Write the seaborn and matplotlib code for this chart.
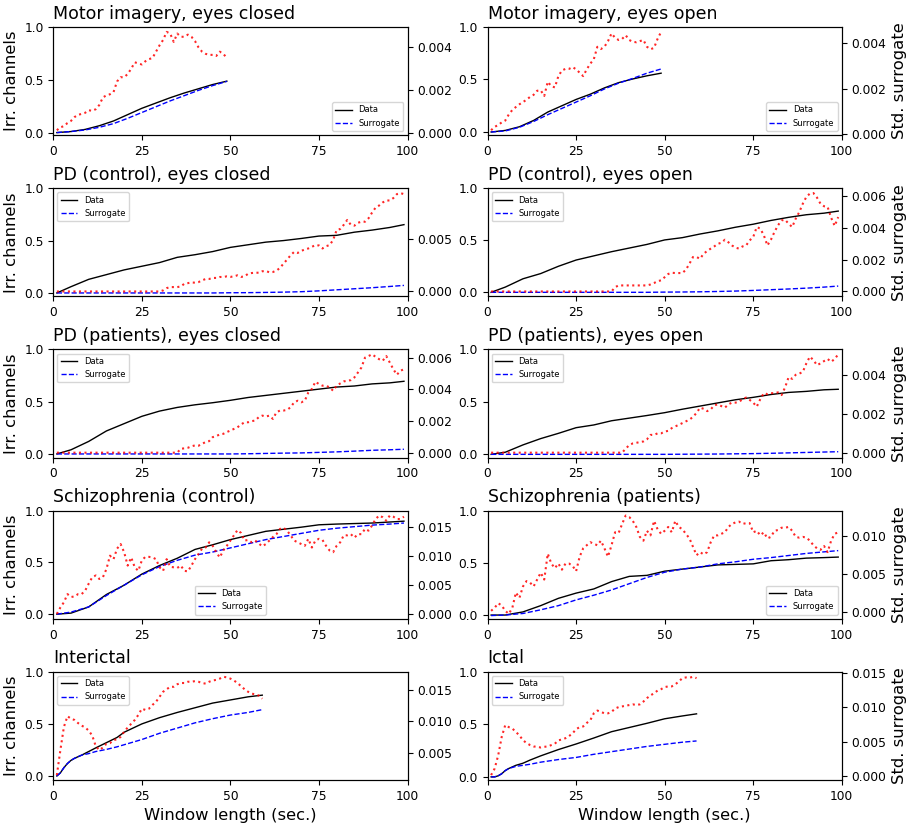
import numpy as np
import matplotlib
matplotlib.use("Agg")
import matplotlib.pyplot as plt
import seaborn as sns

# %%-------------------------------------------------------------------------
# data (std values in units of 1e-3)
titles = ["Motor imagery, eyes closed", "Motor imagery, eyes open",
          "PD (control), eyes closed", "PD (control), eyes open",
          "PD (patients), eyes closed", "PD (patients), eyes open",
          "Schizophrenia (control)", "Schizophrenia (patients)",
          "Interictal", "Ictal"]

x_mi = [1, 5, 9, 13, 17, 21, 25, 29, 33, 37, 41, 45, 49]
x_long = [1, 5, 10, 15, 20, 25, 30, 35, 40, 45, 50, 55, 60, 65, 70, 75, 80, 85, 90, 95, 99]
x_inter = [1, 2, 3, 4, 5, 6, 8, 10, 12, 15, 18, 20, 25, 30, 35, 40, 45, 50, 55, 59]
x_ictal = [1, 2, 3, 4, 5, 6, 8, 10, 12, 15, 20, 25, 30, 35, 40, 45, 50, 55, 59]

# Motor imagery, eyes closed
mi_closed_data = [0.0, 0.01, 0.03, 0.065, 0.11, 0.17, 0.23, 0.28, 0.33, 0.375, 0.415, 0.455, 0.487]
mi_closed_surr = [0.0, 0.01, 0.025, 0.05, 0.085, 0.135, 0.19, 0.245, 0.3, 0.35, 0.4, 0.445, 0.485]
mi_closed_std = [0.11, 0.25, 0.3, 0.45, 0.55, 0.73, 0.83, 0.88, 0.93, 1.05,
                 1.02, 1.1, 1.3, 1.65, 1.75, 1.8, 1.9, 2.4, 2.6, 2.6,
                 2.75, 3.0, 3.3, 3.25, 3.2, 3.35, 3.45, 3.5, 3.8, 4.1,
                 4.35, 4.73, 4.65, 4.26, 4.65, 4.5, 4.5, 4.6, 4.5, 4.3,
                 4.0, 3.8, 3.7, 3.65, 3.65, 3.6, 3.8, 3.7, 3.5]

# Motor imagery, eyes open
mi_open_data = [0.0, 0.015, 0.05, 0.11, 0.19, 0.25, 0.31, 0.36, 0.42, 0.47, 0.505, 0.535, 0.56]
mi_open_surr = [0.0, 0.01, 0.045, 0.1, 0.165, 0.225, 0.285, 0.345, 0.41, 0.465, 0.51, 0.56, 0.6]
mi_open_std = [0.15, 0.3, 0.38, 0.5, 0.58, 0.85, 1.05, 1.18, 1.3, 1.4,
               1.5, 1.63, 1.72, 1.9, 1.92, 1.67, 2.3, 2.1, 2.05, 2.55,
               2.8, 2.87, 2.87, 2.95, 2.85, 2.7, 2.55, 2.85, 3.1, 3.3,
               3.85, 3.75, 3.85, 4.1, 4.44, 4.25, 4.15, 4.2, 4.36, 4.15,
               4.07, 4.05, 4.1, 4.15, 3.85, 3.74, 3.8, 4.2, 4.51]

# PD (control), eyes closed
pdc_closed_data = [0.0, 0.06, 0.13, 0.175, 0.22, 0.255, 0.29, 0.34, 0.365, 0.395, 0.435,
                   0.46, 0.485, 0.5, 0.52, 0.543, 0.55, 0.58, 0.6, 0.625, 0.652]
pdc_closed_surr = [0.0, 0.0, 0.0, 0.0, 0.0, 0.0, 0.0, 0.0, 0.0, 0.0, 0.002,
                   0.003, 0.005, 0.008, 0.012, 0.02, 0.03, 0.04, 0.05, 0.062, 0.072]
pdc_closed_std = [0.0] * 30 + [
    0.1, 0.32, 0.42, 0.42, 0.42, 0.48, 0.74, 0.8, 0.87, 0.84,
    0.9, 1.06, 1.2, 1.2, 1.3, 1.3, 1.39, 1.39, 1.45, 1.4,
    1.45, 1.55, 1.4, 1.45, 1.7, 1.77, 1.8, 1.8, 1.94, 1.97,
    1.84, 1.87, 2.0, 2.26, 2.68, 3.06, 3.48, 3.8, 3.7, 3.9,
    4.03, 4.13, 4.29, 4.45, 4.42, 4.13, 4.35, 4.45, 4.94, 5.9,
    6.0, 6.4, 6.87, 6.4, 6.32, 6.6, 6.7, 6.7, 7.03, 7.58,
    8.06, 8.26, 8.55, 8.74, 8.74, 8.97, 9.35, 9.45, 9.35]

# PD (control), eyes open
pdc_open_data = [0.0, 0.05, 0.13, 0.18, 0.25, 0.31, 0.35, 0.39, 0.425, 0.46, 0.503,
                 0.525, 0.56, 0.59, 0.625, 0.654, 0.69, 0.72, 0.745, 0.76, 0.78]
pdc_open_surr = [0.0, 0.0, 0.0, 0.0, 0.0, 0.0, 0.0, 0.0, 0.0, 0.0, 0.002,
                 0.003, 0.005, 0.008, 0.012, 0.018, 0.025, 0.032, 0.04, 0.05, 0.06]
pdc_open_std = [0.0] * 35 + [
    0.27, 0.38, 0.38, 0.38, 0.38,
    0.38, 0.38, 0.38, 0.38, 0.38, 0.44, 0.53, 0.65, 0.7, 0.9,
    1.1, 1.18, 1.16, 1.16, 1.16, 1.37, 1.75, 2.17, 2.17, 2.06,
    2.38, 2.55, 2.7, 2.84, 3.0, 3.07, 3.26, 3.1, 2.9, 2.76,
    2.7, 2.84, 2.9, 3.22, 3.43, 4.06, 3.96, 3.54, 2.9, 3.26,
    3.75, 4.17, 4.48, 4.52, 4.27, 4.06, 4.59, 5.0, 5.53, 5.96,
    6.17, 6.2, 5.92, 5.53, 5.37, 5.33, 4.65, 4.13, 4.69]

# PD (patients), eyes closed
pdp_closed_data = [0.0, 0.04, 0.12, 0.22, 0.29, 0.36, 0.41, 0.445, 0.47, 0.49, 0.513,
                   0.54, 0.56, 0.58, 0.6, 0.62, 0.64, 0.65, 0.67, 0.68, 0.695]
pdp_closed_surr = [0.0, 0.0, 0.0, 0.0, 0.0, 0.0, 0.0, 0.0, 0.0, 0.0, 0.0,
                   0.002, 0.005, 0.008, 0.01, 0.015, 0.02, 0.027, 0.035, 0.04, 0.045]
pdp_closed_std = [0.0] * 35 + [
    0.25, 0.27, 0.31, 0.4, 0.46,
    0.44, 0.56, 0.67, 0.73, 0.98, 1.05, 1.15, 1.19, 1.3, 1.4,
    1.5, 1.6, 1.78, 1.92, 1.92, 1.99, 2.03, 2.24, 2.34, 2.28,
    2.34, 2.13, 2.55, 2.66, 2.66, 2.7, 2.87, 3.18, 3.28, 3.18,
    3.28, 3.8, 4.02, 4.48, 4.33, 4.23, 4.23, 4.12, 3.91, 4.23,
    4.37, 4.5, 4.54, 4.58, 4.75, 5.06, 5.38, 6.0, 6.1, 6.21,
    6.05, 5.9, 5.8, 6.1, 5.69, 5.27, 4.92, 5.17, 5.27]

# PD (patients), eyes open
pdp_open_data = [0.0, 0.02, 0.09, 0.15, 0.2, 0.254, 0.28, 0.32, 0.345, 0.37, 0.397,
                 0.43, 0.46, 0.49, 0.52, 0.543, 0.57, 0.59, 0.6, 0.615, 0.62]
pdp_open_surr = [0.0, 0.0, 0.0, 0.0, 0.0, 0.0, 0.0, 0.0, 0.0, 0.0, 0.0,
                 0.001, 0.002, 0.003, 0.005, 0.007, 0.01, 0.014, 0.018, 0.022, 0.025]
pdp_open_std = [0.0] * 38 + [
    0.21, 0.39,
    0.48, 0.51, 0.55, 0.58, 0.69, 0.92, 0.92, 1.0, 1.0, 1.09,
    1.13, 1.27, 1.36, 1.44, 1.53, 1.62, 1.71, 1.85, 2.06, 2.33,
    2.27, 2.15, 2.24, 2.45, 2.5, 2.41, 2.33, 2.5, 2.59, 2.59,
    2.63, 2.77, 2.85, 2.73, 2.59, 2.38, 2.77, 3.08, 3.03, 3.08,
    3.08, 3.12, 2.98, 3.38, 3.91, 3.82, 4.03, 4.09, 4.18, 4.62,
    4.97, 4.79, 4.53, 4.62, 4.74, 4.85, 4.7, 4.85, 5.09]

# Schizophrenia (control)
sz_control_data = [0.0, 0.01, 0.07, 0.19, 0.28, 0.387, 0.47, 0.54, 0.625, 0.67, 0.72,
                   0.76, 0.8, 0.82, 0.84, 0.863, 0.87, 0.875, 0.88, 0.89, 0.898]
sz_control_surr = [0.0, 0.02, 0.07, 0.18, 0.28, 0.38, 0.46, 0.52, 0.57, 0.6, 0.64,
                   0.68, 0.72, 0.75, 0.78, 0.81, 0.83, 0.845, 0.86, 0.87, 0.88]
sz_control_std = [0.0, 1.1, 2.0, 3.4, 2.9, 3.0, 3.4, 3.4, 4.0, 5.2,
                  6.3, 6.6, 6.0, 6.3, 7.7, 10.0, 9.4, 11.2, 12.0, 10.6,
                  8.3, 9.7, 8.0, 7.4, 9.2, 9.8, 9.8, 9.7, 9.4, 8.0,
                  7.4, 9.4, 8.1, 8.0, 7.9, 8.3, 7.4, 7.3, 8.3, 9.4,
                  10.3, 11.2, 11.4, 12.3, 11.7, 10.6, 9.7, 10.9, 11.7, 12.6,
                  13.5, 14.4, 13.9, 12.6, 12.7, 12.3, 12.6, 12.1, 11.6, 12.0,
                  12.6, 13.2, 13.7, 14.6, 14.8, 14.3, 13.5, 12.6, 12.3, 12.0,
                  11.7, 12.9, 11.4, 12.6, 12.9, 12.7, 11.7, 10.9, 10.6, 11.7,
                  12.3, 13.5, 13.5, 13.7, 13.1, 13.7, 13.7, 14.6, 14.3, 15.2,
                  16.3, 16.9, 16.6, 16.0, 16.9, 16.7, 16.3, 16.3, 16.7]

# Schizophrenia (patients)
sz_patient_data = [0.0, 0.0, 0.03, 0.09, 0.16, 0.21, 0.25, 0.32, 0.37, 0.38, 0.42,
                   0.44, 0.46, 0.48, 0.485, 0.49, 0.52, 0.53, 0.545, 0.55, 0.555]
sz_patient_surr = [-0.005, 0.0, 0.015, 0.05, 0.09, 0.145, 0.19, 0.24, 0.3, 0.36, 0.41,
                   0.44, 0.46, 0.49, 0.51, 0.534, 0.55, 0.57, 0.59, 0.605, 0.617]
sz_patient_std = [0.2, 0.6, 1.2, 0.9, 0.2, -0.2, 0.6, 2.6, 1.9, 3.4,
                  4.1, 3.9, 3.4, 4.3, 5.2, 4.3, 7.7, 6.4, 5.8, 6.4,
                  5.6, 6.4, 6.4, 6.1, 5.4, 7.3, 8.4, 8.8, 9.2, 9.0,
                  8.8, 9.4, 8.4, 7.3, 8.8, 10.5, 10.4, 11.6, 12.7, 12.5,
                  12.0, 11.2, 9.9, 9.4, 10.7, 10.1, 12.0, 10.9, 10.3, 10.7,
                  11.2, 10.5, 12.0, 11.2, 10.9, 10.3, 9.7, 8.6, 7.5, 7.9,
                  7.6, 7.9, 9.2, 10.1, 10.1, 10.3, 10.5, 11.2, 11.6, 11.8,
                  11.9, 11.6, 11.7, 11.7, 10.5, 10.7, 10.1, 10.5, 9.7, 9.9,
                  10.7, 10.8, 11.1, 11.1, 11.2, 10.7, 9.9, 9.8, 9.9, 9.8,
                  9.4, 8.8, 8.4, 8.2, 8.7, 7.9, 9.4, 10.3, 10.5]

# Interictal
interictal_data = [0.0, 0.03, 0.08, 0.12, 0.15, 0.17, 0.2, 0.235, 0.27, 0.32,
                   0.37, 0.42, 0.5, 0.56, 0.61, 0.655, 0.7, 0.73, 0.76, 0.776]
interictal_surr = [0.0, 0.03, 0.08, 0.12, 0.15, 0.17, 0.2, 0.215, 0.235, 0.255,
                   0.28, 0.3, 0.35, 0.41, 0.46, 0.51, 0.55, 0.585, 0.61, 0.637]
interictal_std = [1.4, 5.4, 9.1, 10.8, 10.4, 10.2, 9.7, 9.3, 9.0, 8.5,
                  7.7, 6.0, 5.4, 5.8, 6.4, 6.5, 7.0, 7.1, 7.5, 8.3,
                  9.0, 9.6, 10.2, 11.0, 12.0, 11.8, 12.0, 12.6, 13.1, 13.9,
                  14.7, 15.1, 15.5, 15.5, 15.9, 16.1, 16.1, 16.3, 16.3, 16.4,
                  16.3, 16.1, 16.0, 16.3, 16.5, 16.6, 16.8, 17.1, 17.0, 16.8,
                  16.5, 16.1, 15.6, 15.1, 14.7, 14.4, 14.3, 14.1, 13.6]

# Ictal
ictal_data = [0.0, 0.0, 0.01, 0.03, 0.06, 0.08, 0.11, 0.13, 0.16, 0.2,
              0.26, 0.313, 0.37, 0.43, 0.47, 0.51, 0.553, 0.58, 0.6]
ictal_surr = [0.0, 0.0, 0.01, 0.03, 0.06, 0.08, 0.1, 0.11, 0.12, 0.14,
              0.165, 0.185, 0.215, 0.24, 0.265, 0.29, 0.31, 0.33, 0.342]
ictal_std = [0.15, 1.1, 3.0, 5.7, 7.4, 7.1, 6.9, 6.4, 5.9, 5.2,
             4.8, 4.5, 4.3, 4.25, 4.15, 4.25, 4.3, 4.5, 4.7, 5.2,
             5.3, 5.5, 5.8, 6.2, 6.8, 7.1, 7.2, 7.7, 8.1, 9.1,
             9.5, 9.3, 9.1, 9.1, 9.3, 9.8, 10.0, 10.1, 10.2, 10.3,
             10.4, 10.3, 10.4, 10.8, 11.3, 11.7, 12.0, 12.4, 12.6, 12.9,
             13.0, 13.0, 13.3, 13.7, 14.2, 14.3, 14.25, 14.4, 14.2]

panels = [
    (x_mi, mi_closed_data, mi_closed_surr, mi_closed_std),
    (x_mi, mi_open_data, mi_open_surr, mi_open_std),
    (x_long, pdc_closed_data, pdc_closed_surr, pdc_closed_std),
    (x_long, pdc_open_data, pdc_open_surr, pdc_open_std),
    (x_long, pdp_closed_data, pdp_closed_surr, pdp_closed_std),
    (x_long, pdp_open_data, pdp_open_surr, pdp_open_std),
    (x_long, sz_control_data, sz_control_surr, sz_control_std),
    (x_long, sz_patient_data, sz_patient_surr, sz_patient_std),
    (x_inter, interictal_data, interictal_surr, interictal_std),
    (x_ictal, ictal_data, ictal_surr, ictal_std),
]

# %%-------------------------------------------------------------------------
legend_locs = ["lower right", "lower right", "upper left", "upper left",
               "upper left", "upper left", "lower center", "lower right",
               "upper left", "upper left"]

fig, axes = plt.subplots(5, 2, figsize=(9.11, 8.27), dpi=100)
fig.subplots_adjust(left=0.0585, right=0.924, top=0.9674, bottom=0.0568,
                    wspace=0.226, hspace=0.49)

for i, ax in enumerate(axes.flat):
    xs, data, surr, std = panels[i]
    sns.lineplot(x=xs, y=data, ax=ax, color="black", lw=1, label="Data")
    sns.lineplot(x=xs, y=surr, ax=ax, color="blue", lw=1, linestyle="--", label="Surrogate")
    ax.set_xlim(0, 100)
    ax.set_xticks([0, 25, 50, 75, 100])
    ax.set_ylim(top=1.0)
    ax.set_yticks([0.0, 0.5, 1.0])
    ax.tick_params(labelsize=8.8)
    ax.set_title(titles[i], loc="left", fontsize=12.5)
    ax.legend(loc=legend_locs[i], fontsize=6)

    ax2 = ax.twinx()
    sns.lineplot(x=np.arange(1, len(std) + 1), y=np.array(std) * 1e-3, ax=ax2,
                 color="red", lw=1.5, linestyle=":", alpha=0.85)
    ax2.tick_params(labelsize=8.8)

    ax.set_xlabel("")
    ax.set_ylabel("")
    ax2.set_ylabel("")
    if i % 2 == 0:
        ax.set_ylabel("Irr. channels", fontsize=11.8)
    else:
        ax2.set_ylabel("Std. surrogate", fontsize=11.8)
    if i >= 8:
        ax.set_xlabel("Window length (sec.)", fontsize=11.8)

plt.savefig("out.png", dpi=100)
